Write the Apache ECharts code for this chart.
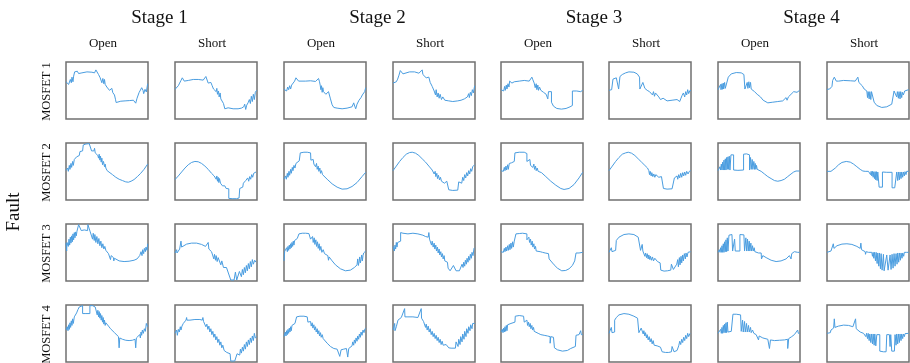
<!DOCTYPE html>
<html><head><meta charset="utf-8">
<script src="https://cdn.jsdelivr.net/npm/echarts@6/dist/echarts.min.js"></script>
<style>html,body{margin:0;padding:0;background:#fff}#c{width:910px;height:363px}</style>
</head><body><div id="c"></div>
<script>
// ---- labels ----
const stages = ['Stage 1', 'Stage 2', 'Stage 3', 'Stage 4'];
const faultTypes = ['Open', 'Short'];
const mosfets = ['MOSFET 1', 'MOSFET 2', 'MOSFET 3', 'MOSFET 4'];
const sideTitle = 'Fault';

// ---- waveforms: [time sample, current] ----
const m1_s1_open = [[0,26],[2,28],[6,30],[8,18],[13,33],[16,23],[18,40],[21,26],[23,43],[26,56],[30,62],[34,58],[38,51],[48,53],[63,56],[78,55],[86,53],[90,62],[94,63],[98,48],[103,38],[106,40],[108,23],[111,36],[114,20],[116,33],[118,18],[123,10],[128,6],[131,0],[134,-2],[136,4],[138,6],[141,-7],[146,-14],[149,-27],[151,-37],[156,-35],[165,-33],[178,-32],[192,-31],[203,-30],[208,-33],[210,-39],[214,-24],[220,-7],[224,-2],[228,8],[232,0],[234,-10],[238,3],[242,-5],[246,20]];
const m1_s1_short = [[0,3],[2,4],[6,8],[10,14],[14,22],[18,30],[22,38],[25,40],[28,28],[32,24],[40,30],[55,33],[70,33],[85,31],[90,30],[93,42],[96,36],[100,22],[105,18],[108,24],[112,14],[116,4],[120,0],[124,-4],[126,6],[128,-12],[131,-2],[133,-20],[136,-8],[138,-26],[142,-30],[146,-40],[150,-56],[155,-50],[160,-53],[175,-56],[190,-56],[200,-54],[207,-50],[210,-42],[213,-58],[216,-45],[220,-38],[224,-28],[227,-40],[230,-18],[233,-34],[236,-12],[239,-28],[242,-6],[246,0]];
const m1_s2_open = [[0,3],[2,3],[6,6],[8,-2],[11,10],[14,2],[17,14],[20,4],[23,16],[26,20],[32,28],[36,38],[40,36],[44,28],[50,26],[65,28],[80,29],[95,27],[100,30],[104,36],[107,26],[109,16],[111,2],[113,14],[115,-6],[117,8],[119,-4],[122,-8],[126,-12],[130,-14],[134,-4],[137,-10],[140,-26],[145,-44],[150,-52],[160,-54],[175,-56],[190,-54],[205,-50],[210,-38],[213,-48],[216,-56],[220,-42],[226,-30],[232,-22],[236,-14],[240,-20],[243,-4],[246,8]];
const m1_s2_short = [[0,22],[2,22],[6,20],[10,26],[14,34],[18,46],[22,60],[26,58],[30,50],[36,54],[50,56],[65,56],[78,52],[84,58],[88,62],[90,48],[95,42],[100,38],[105,36],[108,40],[112,24],[118,12],[124,-2],[128,-14],[130,2],[133,-20],[136,-8],[139,-24],[142,-12],[146,-28],[150,-20],[156,-30],[160,-34],[168,-32],[180,-34],[195,-32],[205,-30],[215,-26],[220,-30],[224,-20],[228,-10],[230,-22],[233,-6],[236,-16],[239,2],[242,-8],[246,14]];
const m1_s3_open = [[0,2],[2,3],[5,8],[8,-2],[11,12],[13,0],[16,16],[18,4],[21,20],[24,10],[26,28],[30,30],[33,22],[40,26],[55,28],[70,30],[85,28],[90,30],[93,40],[96,32],[100,22],[103,8],[106,20],[108,2],[111,16],[113,0],[116,10],[120,0],[128,-6],[136,-12],[141,-26],[143,-26],[143,-4],[152,-4],[152,-36],[158,-48],[168,-55],[182,-57],[196,-55],[208,-50],[215,-46],[215,-2],[228,-2],[234,-6],[240,-4],[246,0]];
const m1_s3_short = [[0,0],[2,0],[8,2],[12,2],[12,34],[16,38],[22,38],[27,36],[29,4],[32,4],[33,42],[40,48],[50,53],[60,56],[75,55],[85,50],[90,44],[92,40],[93,4],[98,4],[102,24],[105,18],[108,6],[115,0],[122,-4],[128,-2],[131,-14],[134,-4],[137,-18],[140,-8],[144,-14],[150,-20],[155,-28],[160,-34],[163,-24],[166,-30],[175,-32],[190,-30],[205,-28],[210,-24],[213,-34],[216,-26],[220,-16],[224,-8],[228,-20],[231,-4],[234,-14],[237,2],[240,-10],[244,0],[247,-2]];
const m1_s4_open = [[0,2],[2,2],[6,4],[8,18],[9,2],[12,20],[13,3],[16,22],[17,4],[20,24],[22,6],[25,6],[28,8],[30,8],[31,40],[40,50],[55,54],[70,53],[78,48],[80,44],[81,4],[86,4],[88,24],[90,6],[93,26],[95,8],[98,24],[100,4],[104,2],[110,-4],[118,-12],[124,-8],[128,-20],[132,-26],[136,-30],[142,-36],[150,-38],[165,-36],[180,-34],[195,-32],[205,-22],[208,-30],[212,-20],[220,-12],[228,-4],[232,-2],[238,-6],[244,-2],[246,0]];
const m1_s4_short = [[0,3],[2,3],[8,4],[12,8],[15,12],[17,30],[22,40],[25,36],[28,28],[35,28],[50,30],[70,29],[85,28],[90,32],[93,40],[96,24],[100,18],[106,14],[112,4],[118,2],[120,-2],[122,-22],[124,-4],[127,-26],[129,-4],[132,-28],[134,-4],[140,-4],[142,-36],[150,-46],[165,-52],[180,-50],[195,-42],[200,-36],[202,-2],[208,-2],[210,-20],[212,-4],[215,-24],[217,-4],[220,-26],[222,-4],[225,-22],[227,-6],[230,-14],[234,-2],[240,0],[246,2]];

const m2_s1_open = [[0,3],[2,3],[5,10],[7,0],[10,18],[12,6],[15,24],[17,12],[20,30],[22,18],[25,36],[28,30],[32,44],[36,46],[40,48],[42,60],[46,64],[50,62],[52,80],[60,83],[70,84],[76,82],[77,62],[80,60],[84,62],[86,70],[88,56],[92,52],[96,48],[98,40],[100,52],[102,34],[104,46],[106,28],[108,40],[110,20],[113,30],[116,14],[118,22],[120,10],[124,2],[130,-4],[140,-10],[150,-18],[160,-24],[170,-28],[180,-32],[188,-33],[196,-30],[205,-25],[215,-16],[225,-6],[235,6],[246,22]];
const m2_s1_short = [[0,-25],[2,-24],[10,-14],[20,-2],[30,10],[40,20],[50,27],[60,30],[70,29],[80,24],[90,16],[100,6],[110,-6],[118,-14],[122,-10],[124,-24],[126,-14],[128,-30],[130,-18],[132,-34],[134,-22],[137,-36],[140,-30],[143,-44],[146,-38],[150,-44],[154,-52],[162,-53],[162,-82],[172,-83],[185,-83],[193,-81],[195,-52],[200,-52],[204,-48],[206,-36],[210,-40],[213,-28],[216,-34],[219,-20],[222,-30],[225,-16],[228,-24],[231,-10],[234,-18],[237,-6],[240,-12],[244,-2],[246,-2]];
const m2_s2_open = [[0,-24],[2,-24],[5,-14],[7,-24],[10,-6],[12,-18],[15,0],[17,-12],[20,6],[22,-6],[25,12],[27,2],[30,18],[33,10],[36,24],[40,30],[46,32],[49,34],[49,56],[60,58],[70,58],[80,56],[81,34],[85,32],[88,36],[90,22],[93,28],[95,14],[98,24],[100,6],[103,16],[105,0],[108,10],[110,-6],[113,2],[116,-10],[120,-12],[130,-24],[145,-38],[160,-48],[175,-54],[190,-53],[205,-46],[220,-34],[235,-16],[246,-3]];
const m2_s2_short = [[0,2],[2,3],[10,16],[20,30],[30,42],[40,52],[50,57],[58,58],[68,55],[78,48],[88,38],[98,28],[108,16],[118,4],[122,8],[124,-8],[127,0],[129,-16],[132,-6],[134,-22],[137,-12],[140,-26],[143,-18],[146,-30],[150,-28],[155,-36],[158,-34],[162,-30],[166,-32],[168,-56],[180,-58],[195,-57],[198,-32],[204,-30],[207,-36],[210,-18],[213,-28],[216,-10],[219,-20],[222,-4],[225,-14],[228,2],[231,-8],[234,8],[237,0],[240,14],[246,20]];
const m2_s3_open = [[0,2],[2,3],[5,8],[7,0],[10,12],[12,2],[15,16],[17,4],[20,20],[22,6],[25,24],[28,20],[32,26],[36,28],[40,30],[42,34],[42,56],[55,58],[70,58],[78,54],[78,30],[83,28],[87,36],[89,18],[93,20],[96,12],[99,22],[101,6],[104,16],[106,2],[109,10],[112,0],[116,2],[122,-4],[135,-16],[150,-30],[165,-42],[180,-52],[190,-55],[205,-52],[220,-40],[235,-20],[246,-3]];
const m2_s3_short = [[0,2],[2,3],[10,16],[20,30],[30,42],[40,52],[50,56],[58,58],[68,55],[78,48],[88,38],[98,28],[108,18],[116,10],[120,2],[122,-10],[124,0],[127,-14],[129,-4],[132,-16],[135,-8],[138,-18],[141,-10],[145,-16],[150,-18],[158,-16],[160,-20],[163,-20],[164,-52],[175,-54],[190,-53],[196,-50],[197,-20],[202,-20],[205,-14],[207,-24],[210,-10],[213,-20],[216,-6],[219,-18],[222,-4],[225,-14],[228,-2],[231,-12],[234,0],[238,-8],[242,0],[246,2]];
const m2_s4_open = [[0,2],[2,3],[5,6],[6,14],[8,4],[10,22],[12,4],[14,28],[16,4],[18,34],[20,4],[22,38],[24,4],[26,42],[28,6],[30,44],[32,6],[34,46],[36,4],[39,4],[39,50],[43,52],[47,50],[47,4],[60,3],[77,4],[77,52],[86,53],[95,50],[95,4],[98,42],[100,6],[103,36],[105,6],[108,30],[110,6],[112,24],[114,6],[116,18],[118,6],[120,12],[123,4],[130,0],[140,-8],[150,-16],[160,-22],[170,-28],[180,-30],[190,-28],[200,-24],[210,-16],[220,-8],[228,-2],[235,1],[246,1]];
const m2_s4_short = [[0,0],[2,0],[12,0],[18,3],[25,10],[35,20],[45,27],[58,30],[70,28],[80,22],[90,14],[100,6],[108,1],[115,0],[125,0],[127,-6],[129,0],[131,-10],[133,0],[135,-14],[137,0],[139,-18],[141,-1],[143,-22],[145,-1],[147,-26],[149,-1],[151,-28],[153,-2],[157,-2],[157,-48],[163,-50],[167,-48],[167,-2],[180,-3],[196,-3],[196,-50],[204,-50],[210,-48],[210,-2],[213,-28],[215,-2],[218,-26],[220,-2],[223,-22],[225,-2],[228,-18],[230,-2],[233,-14],[235,-1],[238,-10],[240,0],[246,0]];

const m3_s1_open = [[0,28],[2,4],[3,30],[5,34],[7,18],[9,40],[11,22],[13,46],[15,28],[17,50],[19,32],[21,56],[23,38],[25,60],[27,44],[29,62],[31,50],[33,64],[36,66],[38,84],[44,85],[46,66],[50,66],[55,68],[60,68],[65,66],[66,84],[72,85],[73,62],[78,60],[80,40],[82,58],[85,36],[87,54],[90,30],[93,48],[96,26],[99,42],[102,20],[105,34],[108,14],[111,26],[114,10],[117,18],[120,6],[124,8],[128,-4],[133,-8],[134,-22],[136,-10],[140,-14],[143,-16],[144,-26],[146,-18],[152,-22],[160,-26],[175,-28],[190,-27],[205,-24],[214,-20],[216,-26],[218,-14],[222,-10],[224,-16],[226,2],[229,-10],[231,8],[234,-4],[236,12],[239,2],[241,16],[244,6],[246,26]];
const m3_s1_short = [[0,-2],[2,-2],[5,8],[6,-2],[10,4],[14,10],[18,14],[18,34],[20,16],[25,20],[35,25],[50,28],[65,28],[80,24],[92,18],[98,14],[100,30],[102,10],[106,6],[110,2],[115,-4],[117,-20],[119,-6],[122,-24],[124,-10],[127,-28],[130,-16],[133,-20],[136,-22],[138,-38],[141,-26],[144,-32],[146,-46],[150,-40],[155,-46],[160,-52],[162,-52],[168,-84],[178,-84],[182,-60],[186,-84],[192,-84],[194,-58],[198,-62],[200,-74],[203,-52],[206,-68],[209,-46],[212,-62],[215,-40],[218,-56],[221,-34],[224,-50],[227,-28],[230,-44],[233,-22],[236,-36],[240,-24],[244,-30],[246,-30]];
const m3_s2_open = [[0,-26],[2,3],[4,8],[6,0],[8,14],[10,2],[12,18],[14,6],[16,22],[18,10],[20,26],[22,14],[24,30],[26,18],[28,34],[30,22],[32,36],[35,38],[37,40],[40,42],[45,56],[55,58],[65,58],[75,57],[80,56],[80,40],[84,38],[86,48],[88,30],[91,44],[93,24],[96,38],[98,18],[101,32],[103,12],[106,26],[108,6],[111,18],[114,0],[118,8],[122,-4],[128,-8],[132,-10],[134,-24],[136,-14],[145,-26],[155,-38],[170,-50],[185,-56],[200,-54],[212,-46],[220,-38],[222,-20],[224,-40],[226,-30],[228,-14],[230,-32],[232,-22],[234,-8],[236,-26],[238,-10],[240,-2],[244,-6],[246,4]];
const m3_s2_short = [[0,18],[2,18],[4,4],[6,22],[8,10],[10,30],[12,16],[14,30],[20,32],[23,34],[23,60],[30,58],[45,56],[60,58],[75,56],[90,52],[98,48],[106,46],[108,60],[110,40],[114,36],[116,22],[118,34],[121,16],[124,28],[126,10],[129,22],[131,4],[134,16],[136,-2],[139,10],[141,-8],[144,2],[146,-14],[149,-4],[151,-20],[154,-10],[156,-26],[160,-30],[164,-30],[166,-48],[172,-56],[178,-56],[182,-40],[188,-42],[190,-56],[200,-56],[206,-52],[208,-36],[211,-46],[213,-30],[216,-42],[218,-24],[221,-36],[223,-18],[226,-30],[228,-12],[231,-24],[233,-6],[236,-18],[238,0],[241,-10],[244,12],[246,14]];
const m3_s3_open = [[0,2],[2,3],[5,8],[7,0],[10,12],[12,2],[15,16],[17,4],[20,20],[22,6],[25,24],[27,8],[30,28],[32,12],[35,32],[37,16],[40,34],[43,36],[45,56],[55,57],[65,58],[78,56],[78,38],[82,36],[84,46],[86,30],[89,40],[91,22],[94,34],[96,16],[99,26],[101,10],[104,18],[106,4],[109,10],[112,0],[118,2],[125,0],[133,-2],[143,-4],[145,-20],[150,-26],[160,-38],[170,-48],[183,-56],[195,-55],[205,-50],[215,-40],[222,-26],[226,-20],[226,-2],[235,-2],[246,0]];
const m3_s3_short = [[0,0],[2,0],[5,2],[7,14],[9,2],[14,4],[20,6],[22,36],[30,46],[45,54],[60,56],[75,54],[88,46],[93,40],[95,6],[98,4],[100,24],[102,4],[106,0],[108,-12],[110,-2],[113,-16],[115,-4],[118,-20],[120,-8],[123,-22],[125,-12],[128,-24],[131,-14],[134,-26],[138,-18],[142,-22],[146,-28],[150,-30],[154,-32],[156,-54],[166,-57],[176,-56],[186,-54],[188,-36],[192,-36],[194,-52],[200,-50],[204,-36],[207,-22],[209,-44],[212,-16],[214,-38],[217,-12],[219,-32],[222,-8],[224,-26],[227,-4],[230,-20],[232,-2],[235,-14],[238,0],[242,-6],[246,2]];
const m3_s4_open = [[0,0],[2,0],[4,8],[6,0],[8,14],[10,0],[12,20],[14,0],[16,26],[18,0],[20,32],[22,2],[24,38],[26,2],[28,44],[30,4],[33,4],[33,52],[42,54],[44,4],[48,4],[50,40],[52,4],[56,4],[66,4],[66,54],[78,53],[80,4],[84,44],[86,4],[89,40],[91,4],[94,34],[96,4],[99,28],[101,4],[104,20],[106,4],[109,14],[111,2],[116,0],[122,-2],[130,-2],[131,-20],[135,-10],[145,-16],[160,-24],[175,-28],[190,-26],[205,-20],[215,-10],[218,-4],[220,-20],[222,-4],[230,2],[240,0],[246,0]];
const m3_s4_short = [[0,0],[2,0],[4,-4],[6,2],[12,4],[18,8],[19,26],[21,12],[30,20],[45,25],[60,26],[75,24],[90,18],[100,12],[102,28],[104,8],[110,4],[115,2],[116,-6],[118,2],[125,0],[135,0],[137,-12],[139,0],[141,-18],[143,0],[146,-26],[148,0],[151,-34],[153,-2],[156,-42],[158,-2],[161,-50],[163,-4],[166,-54],[170,-6],[172,-56],[178,-56],[180,-8],[184,-54],[188,-54],[190,-8],[193,-52],[196,-6],[199,-48],[202,-4],[205,-42],[208,-4],[211,-36],[213,-2],[216,-30],[218,-2],[221,-24],[223,-2],[226,-18],[228,-2],[231,-12],[233,0],[236,-6],[240,0],[246,0]];

const m4_s1_open = [[0,10],[2,10],[4,20],[6,8],[8,26],[10,12],[12,32],[14,18],[16,38],[18,24],[20,44],[22,30],[25,50],[28,56],[32,62],[36,72],[40,80],[45,84],[50,84],[50,60],[60,60],[72,60],[72,84],[80,84],[88,80],[92,74],[94,56],[96,70],[98,50],[100,66],[102,46],[104,60],[106,40],[108,54],[110,34],[112,48],[114,28],[116,40],[118,24],[120,32],[124,28],[128,22],[134,14],[140,8],[146,2],[152,-4],[158,-10],[160,-12],[160,-44],[162,-14],[170,-18],[180,-21],[190,-22],[200,-21],[208,-18],[210,-16],[210,-44],[212,-14],[218,-10],[222,-4],[224,-14],[226,4],[228,-6],[230,10],[233,0],[236,14],[239,6],[242,30],[246,20]];
const m4_s1_short = [[0,0],[2,0],[5,10],[7,-6],[10,12],[13,4],[16,20],[18,10],[21,22],[25,30],[30,36],[33,40],[35,48],[36,40],[45,40],[60,42],[75,42],[82,40],[84,48],[86,36],[90,30],[93,20],[96,28],[99,12],[102,22],[105,4],[108,14],[111,-4],[114,6],[117,-12],[120,-2],[123,-20],[126,-10],[129,-28],[132,-18],[135,-36],[138,-26],[141,-44],[144,-36],[148,-52],[152,-50],[156,-58],[162,-60],[166,-62],[168,-84],[180,-84],[185,-84],[187,-62],[192,-56],[195,-66],[197,-48],[200,-60],[203,-42],[206,-54],[209,-34],[212,-48],[215,-26],[218,-40],[221,-20],[224,-34],[227,-14],[230,-28],[233,-8],[236,-22],[239,0],[242,-14],[246,-10]];
const m4_s2_open = [[0,-10],[2,-10],[4,4],[6,-8],[8,8],[10,-4],[12,12],[14,0],[16,16],[18,4],[20,20],[22,8],[24,24],[27,20],[30,28],[33,30],[36,32],[38,50],[48,52],[60,52],[70,50],[72,34],[76,32],[80,36],[82,22],[85,32],[87,16],[90,26],[92,10],[95,20],[97,4],[100,14],[102,-2],[105,8],[107,-8],[110,2],[112,-12],[115,-4],[118,-16],[122,-20],[130,-30],[140,-40],[150,-46],[160,-48],[165,-50],[168,-70],[172,-50],[180,-48],[188,-46],[192,-72],[195,-46],[200,-44],[205,-38],[207,-26],[210,-36],[212,-20],[215,-30],[217,-14],[220,-24],[222,-8],[225,-18],[227,-2],[230,-12],[232,4],[235,-6],[238,10],[241,2],[244,14],[246,15]];
const m4_s2_short = [[0,10],[2,10],[5,30],[6,8],[10,20],[15,40],[20,46],[25,48],[35,75],[36,50],[45,50],[60,50],[75,48],[85,75],[86,46],[92,36],[95,30],[98,18],[100,28],[103,10],[106,22],[109,4],[112,14],[115,-4],[118,6],[121,-10],[124,0],[127,-16],[130,-6],[133,-22],[136,-12],[139,-28],[142,-18],[145,-34],[148,-24],[151,-36],[155,-30],[160,-34],[166,-36],[168,-44],[175,-45],[188,-45],[190,-26],[194,-28],[196,-40],[198,-18],[202,-34],[204,-10],[208,-26],[210,-2],[214,-18],[216,6],[220,-10],[222,14],[226,0],[228,20],[232,8],[234,26],[238,14],[240,30],[246,30]];
const m4_s3_open = [[0,4],[2,5],[4,12],[6,2],[8,16],[10,4],[12,20],[14,6],[16,24],[18,8],[20,26],[24,28],[30,30],[36,32],[42,34],[43,52],[55,54],[68,52],[70,52],[70,34],[74,32],[78,40],[80,24],[83,34],[85,20],[88,30],[90,14],[93,24],[95,10],[98,18],[100,6],[103,12],[106,4],[112,0],[120,-4],[130,-6],[140,-8],[148,-10],[148,-30],[150,-10],[158,-12],[161,-12],[161,-44],[170,-50],[185,-54],[200,-52],[210,-46],[224,-40],[226,-6],[235,-4],[240,8],[242,-4],[246,-4]];
const m4_s3_short = [[0,0],[2,0],[5,2],[7,18],[9,2],[14,4],[17,4],[17,40],[22,48],[30,56],[45,60],[60,58],[75,52],[86,46],[90,44],[90,2],[94,4],[97,16],[100,10],[103,-2],[105,8],[108,-8],[110,2],[113,-14],[115,-4],[118,-20],[121,-10],[124,-26],[127,-16],[130,-32],[133,-22],[136,-36],[140,-30],[145,-38],[150,-40],[155,-42],[158,-42],[160,-56],[170,-58],[180,-58],[188,-56],[190,-40],[194,-40],[196,-56],[205,-52],[210,-38],[213,-24],[216,-34],[219,-18],[222,-28],[225,-12],[228,-22],[231,-6],[234,-16],[237,0],[240,-10],[244,0],[246,0]];
const m4_s4_open = [[0,0],[2,0],[4,6],[6,0],[8,12],[10,0],[12,18],[14,0],[16,24],[18,2],[20,28],[22,2],[24,32],[26,2],[28,34],[30,4],[35,4],[40,6],[45,6],[45,58],[55,58],[68,56],[70,56],[70,6],[74,40],[76,4],[80,36],[82,4],[86,30],[88,4],[92,24],[94,4],[98,18],[100,2],[104,10],[108,0],[115,-4],[120,-6],[122,-20],[124,-8],[135,-14],[150,-18],[155,-20],[155,-46],[158,-20],[170,-22],[185,-21],[200,-20],[210,-18],[210,-46],[213,-16],[222,-10],[230,-4],[236,0],[240,10],[242,0],[246,0]];
const m4_s4_short = [[0,0],[2,0],[6,0],[10,2],[12,10],[16,14],[20,16],[22,44],[24,18],[35,22],[50,25],[65,24],[78,20],[84,18],[86,44],[88,14],[94,8],[100,4],[105,2],[110,0],[115,0],[117,-10],[119,0],[122,-16],[124,0],[127,-22],[129,-2],[132,-28],[134,-2],[137,-32],[139,-2],[142,-36],[144,-2],[147,-38],[150,-4],[159,-4],[159,-54],[170,-56],[178,-56],[180,-4],[188,-4],[190,-40],[192,-4],[195,-54],[203,-54],[205,-4],[208,-36],[210,-2],[213,-32],[215,-2],[218,-28],[220,-2],[223,-22],[225,-2],[228,-16],[230,-2],[233,-10],[235,-1],[240,0],[246,0]];

const waves = [
  [m1_s1_open, m1_s1_short, m1_s2_open, m1_s2_short, m1_s3_open, m1_s3_short, m1_s4_open, m1_s4_short],
  [m2_s1_open, m2_s1_short, m2_s2_open, m2_s2_short, m2_s3_open, m2_s3_short, m2_s4_open, m2_s4_short],
  [m3_s1_open, m3_s1_short, m3_s2_open, m3_s2_short, m3_s3_open, m3_s3_short, m3_s4_open, m3_s4_short],
  [m4_s1_open, m4_s1_short, m4_s2_open, m4_s2_short, m4_s3_open, m4_s3_short, m4_s4_open, m4_s4_short]
];

// ---- layout ----
const colLeft = [66, 175, 284, 393, 501, 609, 718, 827];
const rowTop = [62, 143, 224, 305];
const cellW = 82, cellH = 57;
const SERIF = '"Liberation Serif", "Times New Roman", serif';
const LINE = '#4a9de0';

const grids = [], xAxes = [], yAxes = [], series = [];
let k = 0;
for (let r = 0; r < 4; r++) {
  for (let c = 0; c < 8; c++) {
    grids.push({left: colLeft[c], top: rowTop[r], width: cellW, height: cellH,
      show: true, borderColor: '#707070', borderWidth: 1.5, backgroundColor: 'rgba(0,0,0,0)'});
    xAxes.push({gridIndex: k, type: 'value', min: 0, max: 247, show: false});
    yAxes.push({gridIndex: k, type: 'value', min: -87, max: 86, show: false});
    series.push({type: 'line', xAxisIndex: k, yAxisIndex: k, data: waves[r][c],
      showSymbol: false, symbol: 'none', clip: true, silent: true,
      lineStyle: {width: 1, color: LINE}});
    k++;
  }
}

const texts = [];
stages.forEach((s, i) => {
  const cx = (colLeft[2*i] + colLeft[2*i+1] + cellW) / 2 - 2;
  texts.push({type: 'text', x: cx, y: 18, style: {text: s, font: '19px ' + SERIF, fill: '#111',
    textAlign: 'center', textVerticalAlign: 'middle', align: 'center', verticalAlign: 'middle'}});
});
colLeft.forEach((l, c) => {
  texts.push({type: 'text', x: l + 37, y: 44, style: {text: faultTypes[c % 2], font: '13px ' + SERIF, fill: '#111',
    textAlign: 'center', textVerticalAlign: 'middle', align: 'center', verticalAlign: 'middle'}});
});
rowTop.forEach((t, r) => {
  texts.push({type: 'text', x: 47, y: t + cellH / 2 + 1, rotation: Math.PI / 2,
    style: {text: mosfets[r], font: '12.5px ' + SERIF, fill: '#111',
      textAlign: 'center', textVerticalAlign: 'middle', align: 'center', verticalAlign: 'middle'}});
});
texts.push({type: 'text', x: 14, y: 212, rotation: Math.PI / 2,
  style: {text: sideTitle, font: '19px ' + SERIF, fill: '#111',
    textAlign: 'center', textVerticalAlign: 'middle', align: 'center', verticalAlign: 'middle'}});

const chart = echarts.init(document.getElementById('c'), null, {renderer: 'canvas'});
chart.setOption({
  animation: false,
  backgroundColor: '#fff',
  grid: grids, xAxis: xAxes, yAxis: yAxes, series: series,
  graphic: texts
});
</script></body></html>
